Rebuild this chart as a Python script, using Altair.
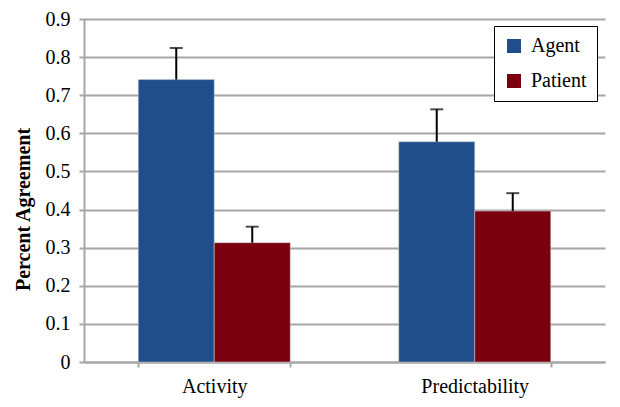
import altair as alt
import pandas as pd

categories = ["Activity", "Activity", "Predictability", "Predictability"]
roles = ["Agent", "Patient", "Agent", "Patient"]
values = [0.741, 0.313, 0.578, 0.396]
errors = [0.083, 0.042, 0.085, 0.047]
y_ticks = [0, 0.1, 0.2, 0.3, 0.4, 0.5, 0.6, 0.7, 0.8, 0.9]

df = pd.DataFrame({"category": categories, "role": roles, "value": values, "err": errors})
df["upper"] = df["value"] + df["err"]

FONT = "Liberation Serif"
GREY = "#a6a6a6"

x_axis = alt.Axis(labelAngle=0, labelPadding=9, tickBand="extent", tickSize=5, grid=False,
                  labelFont=FONT, labelFontSize=20, labelColor="black",
                  domainColor=GREY, domainWidth=2, tickColor=GREY, tickWidth=2)
y_axis = alt.Axis(values=y_ticks, format="~g", labelPadding=9, titlePadding=12, tickSize=5,
                  title="Percent Agreement", titleY=190,
                  labelFont=FONT, labelFontSize=20, labelColor="black",
                  titleFont=FONT, titleFontSize=20, titleFontWeight="bold", titleColor="black",
                  gridColor=GREY, gridWidth=2, domainColor=GREY, domainWidth=2,
                  tickColor=GREY, tickWidth=2)
x_scale = alt.Scale(paddingInner=0.4165, paddingOuter=0.2083)
y_scale = alt.Scale(domain=[0, 0.9], nice=False)

x_enc = alt.X("category:N", title=None, scale=x_scale, axis=x_axis)
xo = alt.XOffset("role:N", sort=["Agent", "Patient"])

bars = alt.Chart(df).mark_bar(stroke="#d0d0d0", strokeWidth=0.5).encode(
    x=x_enc, xOffset=xo,
    y=alt.Y("value:Q", title="Percent Agreement", scale=y_scale, axis=y_axis),
    color=alt.Color("role:N", title=None,
                    scale=alt.Scale(domain=["Agent", "Patient"], range=["#1f4e8a", "#7a0010"]),
                    legend=alt.Legend(orient="none", legendX=410, legendY=7,
                                      symbolType="square", symbolSize=196, symbolStrokeWidth=0,
                                      rowPadding=15, padding=10, strokeColor="black",
                                      fillColor="white", labelLimit=200, offset=0,
                                      labelOffset=7,
                                      labelFont=FONT, labelFontSize=20, labelColor="black")),
)

err_line = alt.Chart(df).mark_rule(color="black", strokeWidth=2).encode(
    x=x_enc, xOffset=xo,
    y=alt.Y("value:Q", title="Percent Agreement", scale=y_scale, axis=y_axis), y2="upper:Q")

caps = alt.Chart(df).mark_tick(color="black", thickness=2, size=13, orient="horizontal").encode(
    x=x_enc, xOffset=xo,
    y=alt.Y("upper:Q", title="Percent Agreement", scale=y_scale, axis=y_axis))

chart = alt.layer(bars, err_line, caps).properties(
    width=521, height=343,
    background="white",
    autosize=alt.AutoSizeParams(type="none"),
    padding={"left": 76, "top": 11, "right": 7, "bottom": 45},
).configure(font=FONT).configure_view(stroke=None)

chart.save("out.html", embed_options={"renderer": "svg", "actions": False})
